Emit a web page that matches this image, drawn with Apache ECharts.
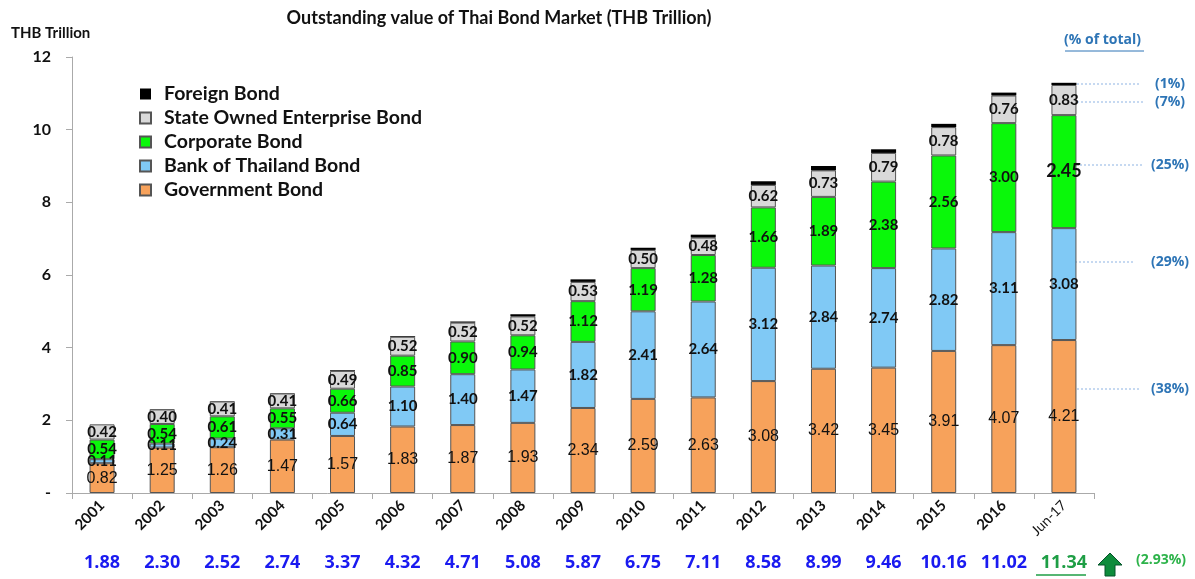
<!DOCTYPE html>
<html>
<head>
<meta charset="utf-8">
<script src="https://cdn.jsdelivr.net/npm/echarts@6/dist/echarts.min.js"></script>
<style>html,body{margin:0;padding:0;background:#fff}#c{width:1195px;height:579px}</style>
</head>
<body>
<div id="c"></div>
<script>
const categories = ['2001','2002','2003','2004','2005','2006','2007','2008','2009','2010','2011','2012','2013','2014','2015','2016','Jun-17'];
const government = [0.82,1.25,1.26,1.47,1.57,1.83,1.87,1.93,2.34,2.59,2.63,3.08,3.42,3.45,3.91,4.07,4.21];
const bankOfThailand = [0.11,0.11,0.24,0.31,0.64,1.10,1.40,1.47,1.82,2.41,2.64,3.12,2.84,2.74,2.82,3.11,3.08];
const corporate = [0.54,0.54,0.61,0.55,0.66,0.85,0.90,0.94,1.12,1.19,1.28,1.66,1.89,2.38,2.56,3.00,3.11];
const corporateLabels = ['0.54','0.54','0.61','0.55','0.66','0.85','0.90','0.94','1.12','1.19','1.28','1.66','1.89','2.38','2.56','3.00','2.45'];
const stateOwned = [0.42,0.40,0.41,0.41,0.49,0.52,0.52,0.52,0.53,0.50,0.48,0.62,0.73,0.79,0.78,0.76,0.83];
const foreign = [0.00,0.01,0.01,0.01,0.02,0.02,0.03,0.06,0.07,0.06,0.08,0.10,0.12,0.10,0.09,0.08,0.06];
const totals = ['1.88','2.30','2.52','2.74','3.37','4.32','4.71','5.08','5.87','6.75','7.11','8.58','8.99','9.46','10.16','11.02','11.34'];
const shareLabels = ['(1%)','(7%)','(25%)','(29%)','(38%)'];
const growthLabel = '(2.93%)';
const yTicks = [0,2,4,6,8,10,12];

const chart = echarts.init(document.getElementById('c'), null, {renderer:'canvas'});
const border = {borderColor:'#555', borderWidth:1};
const segLabel = {show:true, position:'inside', color:'#111', fontFamily:'Lato', fontWeight:'bold', fontSize:15};
const last = categories.length - 1;

const series = [
  {name:'Government Bond', type:'bar', stack:'s', barWidth:25, data:government,
   itemStyle:Object.assign({color:'#F7A25B'}, border),
   label:{show:true, position:'inside', color:'#111', fontFamily:'Liberation Sans', fontSize:16, formatter:p=>p.value.toFixed(2)}},
  {name:'Bank of Thailand Bond', type:'bar', stack:'s', barWidth:25, data:bankOfThailand,
   itemStyle:Object.assign({color:'#80C9F5'}, border),
   label:Object.assign({formatter:p=>p.value.toFixed(2)}, segLabel)},
  {name:'Corporate Bond', type:'bar', stack:'s', barWidth:25,
   data:corporate.map((v,i)=>i===last?{value:v,label:{fontSize:18}}:v),
   itemStyle:Object.assign({color:'#0AF80A'}, border),
   label:Object.assign({formatter:p=>corporateLabels[p.dataIndex]}, segLabel)},
  {name:'State Owned Enterprise Bond', type:'bar', stack:'s', barWidth:25, data:stateOwned,
   itemStyle:Object.assign({color:'#D9D9D9'}, border),
   label:Object.assign({formatter:p=>p.value.toFixed(2)}, segLabel)},
  {name:'Foreign Bond', type:'bar', stack:'s', barWidth:25, data:foreign,
   itemStyle:{color:'#000', borderColor:'#000', borderWidth:0}, label:{show:false}}
];

const pctY = [84, 102, 165, 262, 389];
const pctLineX = [[1077,1140],[1077,1143],[1080,1143],[1067,1133],[1069,1141]];
const graphics = [
  {type:'text', left:11, top:26, style:{text:'THB Trillion', font:'bold 15px Lato', fill:'#111'}},
  {type:'text', left:1064, top:33, style:{text:'(% of total)', font:'bold 14px "Open Sans"', fill:'#2E75B6'}},
  {type:'line', shape:{x1:1065,y1:51,x2:1144,y2:51}, style:{stroke:'#2E75B6', lineWidth:1}},
  {type:'line', shape:{x1:1036,y1:575,x2:1086,y2:575}, style:{stroke:'#1E9E45', lineWidth:1.5}},
  {type:'polygon', shape:{points:[[1110,553],[1122,565],[1115,565],[1115,576],[1105,576],[1105,565],[1098,565]]},
   style:{fill:'#0E8C3C', stroke:'#05542A', lineWidth:1}},
  {type:'text', left:1136, top:553, style:{text:growthLabel, font:'bold 14px "Open Sans"', fill:'#2DB34A'}}
];
shareLabels.forEach((t,i)=>{
  graphics.push({type:'line', shape:{x1:pctLineX[i][0],y1:pctY[i],x2:pctLineX[i][1],y2:pctY[i]},
    style:{stroke:'#8EB4E3', lineWidth:1, lineDash:[2,2]}});
  graphics.push({type:'text', x:1170, y:pctY[i], style:{text:t, font:'bold 14px "Open Sans"', fill:'#2E75B6', align:'center', verticalAlign:'middle'}});
});

chart.setOption({
  animation:false,
  backgroundColor:'#fff',
  title:{text:'Outstanding value of Thai Bond Market (THB Trillion)', left:494, top:4, textAlign:'center',
    textStyle:{fontFamily:'Lato', fontWeight:'bold', fontSize:18, color:'#111'}},
  legend:{orient:'vertical', left:134, top:79, itemWidth:11, itemHeight:11, itemGap:4, icon:'rect',
    data:['Foreign Bond','State Owned Enterprise Bond','Corporate Bond','Bank of Thailand Bond','Government Bond'],
    textStyle:{fontFamily:'Lato', fontWeight:'bold', fontSize:19.5, color:'#111', padding:[0,0,0,8]}},
  grid:{left:72, right:101, top:57, bottom:86, containLabel:false},
  xAxis:[
    {type:'category', data:categories, position:'bottom',
     axisLine:{lineStyle:{color:'#AAA'}}, axisTick:{show:true, length:6, lineStyle:{color:'#AAA'}},
     axisLabel:{rotate:45, margin:10, interval:0, fontFamily:'Lato', fontWeight:'bold', fontSize:15, color:'#111',
       formatter:v=>v==='Jun-17'?'{j|'+v+'}':v, rich:{j:{fontFamily:'Lato', fontWeight:'normal', fontSize:14, color:'#111'}}}},
    {type:'category', data:totals, position:'bottom', offset:61,
     axisLine:{show:false}, axisTick:{show:false},
     axisLabel:{margin:0, interval:0, fontFamily:'Open Sans', fontWeight:'bold', fontSize:18, color:'#1A1AF0',
       formatter:(v,i)=>i===last?'{g|'+v+'}':v, rich:{g:{fontFamily:'Open Sans', fontWeight:'bold', fontSize:18, color:'#1E9E45'}}}}
  ],
  yAxis:{type:'value', min:yTicks[0], max:yTicks[yTicks.length-1], interval:2,
    axisLine:{show:true, lineStyle:{color:'#AAA'}}, axisTick:{show:true, length:6, lineStyle:{color:'#AAA'}},
    splitLine:{show:false},
    axisLabel:{margin:21, fontFamily:'Lato', fontWeight:'bold', fontSize:16, color:'#111', formatter:v=>v===0?'-':String(v)}},
  series:series,
  graphic:graphics
});
</script>
</body>
</html>
